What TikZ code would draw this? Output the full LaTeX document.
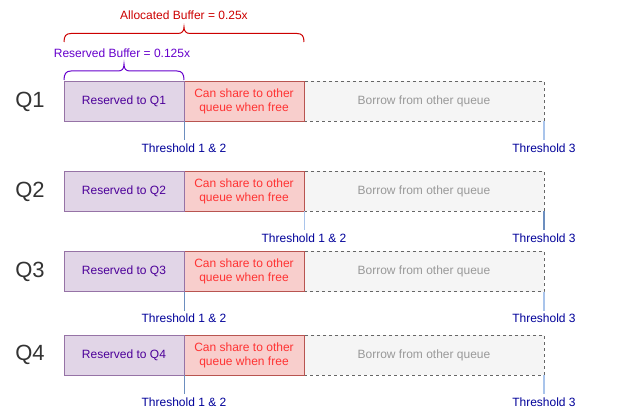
\documentclass[tikz,border=0pt]{standalone}
\usepackage{fontspec}
\setmainfont{Liberation Sans}
\usetikzlibrary{positioning}
\definecolor{resfill}{HTML}{E1D5E7}
\definecolor{resdraw}{HTML}{9673A6}
\definecolor{restext}{HTML}{4C0099}
\definecolor{shrfill}{HTML}{F8CECC}
\definecolor{shrdraw}{HTML}{B85450}
\definecolor{shrtext}{HTML}{FF3333}
\definecolor{borfill}{HTML}{F5F5F5}
\definecolor{bordraw}{HTML}{666666}
\definecolor{bortext}{HTML}{999999}
\definecolor{thrtext}{HTML}{000099}
\definecolor{thrdark}{HTML}{6C8EBF}
\definecolor{thrlight}{HTML}{A9C4EB}
\definecolor{alloccol}{HTML}{CC0000}
\definecolor{resvcol}{HTML}{6600CC}
\definecolor{qcol}{HTML}{333333}
\tikzset{
	cell/.style={minimum height=40pt, inner sep=0pt, outer sep=0pt, line width=1pt,
		font=\fontsize{12}{14}\selectfont, align=center, anchor=west},
	resbox/.style={cell, minimum width=120pt, draw=resdraw, fill=resfill, text=restext},
	shrbox/.style={cell, minimum width=120pt, draw=shrdraw, fill=shrfill, text=shrtext},
	borbox/.style={cell, minimum width=240pt, draw=bordraw, fill=borfill, text=bortext,
		dash pattern=on 3pt off 3pt},
	qlabel/.style={text=qcol, font=\fontsize{22}{24}\selectfont},
	thr/.style={text=thrtext, inner sep=1pt, font=\fontsize{12}{14}\selectfont},
	bracelbl/.style={inner sep=1pt, font=\fontsize{12}{14}\selectfont}
}
\begin{document}
\begin{tikzpicture}[x=1pt,y=-1pt]
	\useasboundingbox (0,0) rectangle (630,417);
	\foreach \i/\y/\ca/\cb/\tx in {1/101.5/thrdark/thrlight/res, 2/191.5/thrlight/thrdark/shr,
		3/271.5/thrdark/thrlight/res, 4/355/thrdark/thrlight/res} {
		\node[qlabel] (q\i) at (30,\y) {Q\i};
		\node[borbox] (bor\i) at (304,\y) {Borrow from other queue};
		\node[shrbox] (shr\i) at (184,\y) {Can share to other\\queue when free};
		\node[resbox] (res\i) at (64,\y) {Reserved to Q\i};
		% thresholds
		\draw[color=\ca, line width=1pt] (\tx\i.south east) -- ++(0,19) coordinate (ta\i);
		\node[thr, below=2.5pt of ta\i] (tal\i) {Threshold 1 \& 2};
		\draw[color=\cb, line width=1.5pt] (bor\i.south east) -- ++(0,19) coordinate (tb\i);
		\node[thr, below=2.5pt of tb\i] (tbl\i) {Threshold 3};
	}
	% braces
	\node[bracelbl, text=alloccol] (alloc) at (184,15) {Allocated Buffer = 0.25x};
	\draw[alloccol, line width=1pt] (64,42) .. controls (64,36) and (66,33.5) .. (71,33.5) -- (178,33.5)
		.. controls (182,33.5) and (184,31) .. (184,27) .. controls (184,31) and (186,33.5) .. (190,33.5)
		-- (297,33.5) .. controls (302,33.5) and (304,36) .. (304,42);
	\node[bracelbl, text=resvcol] (resv) at (122,53) {Reserved Buffer = 0.125x};
	\draw[resvcol, line width=1pt] (64,80) .. controls (64,74) and (66,71) .. (71,71) -- (118,71)
		.. controls (122,71) and (124,69) .. (124,64) .. controls (124,69) and (126,71) .. (130,71)
		-- (177,71) .. controls (182,71) and (184,74) .. (184,80);
\end{tikzpicture}
\end{document}
